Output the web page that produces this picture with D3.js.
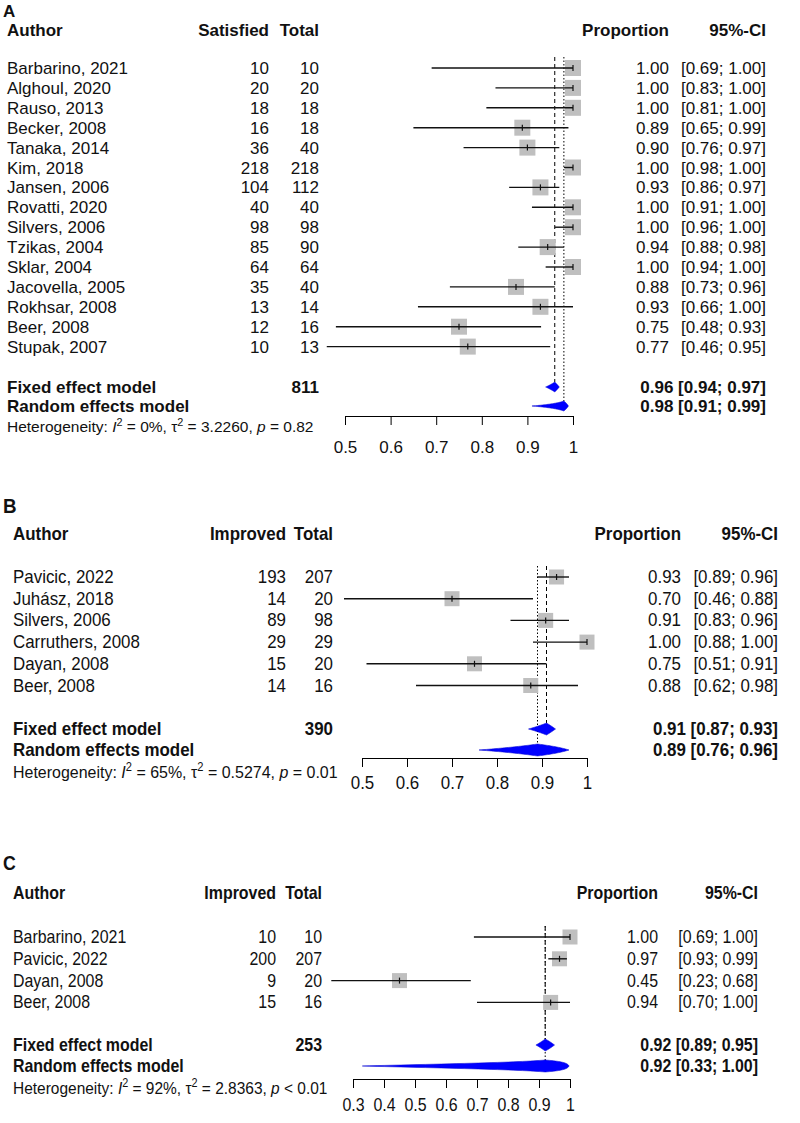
<!DOCTYPE html>
<html>
<head>
<meta charset="utf-8">
<script src="https://cdn.jsdelivr.net/npm/d3@7.9.0/dist/d3.min.js"></script>
<style>
  body { margin: 0; background: #fff; }
  svg { display: block; font-family: "Liberation Sans", Arial, sans-serif; }
</style>
</head>
<body>
<svg id="fig" width="800" height="1123"></svg>
<script>
// ---- panel A: satisfaction ----
const authorsA = ['Barbarino, 2021', 'Alghoul, 2020', 'Rauso, 2013', 'Becker, 2008', 'Tanaka, 2014',
  'Kim, 2018', 'Jansen, 2006', 'Rovatti, 2020', 'Silvers, 2006', 'Tzikas, 2004', 'Sklar, 2004',
  'Jacovella, 2005', 'Rokhsar, 2008', 'Beer, 2008', 'Stupak, 2007'];
const eventsA = [10, 20, 18, 16, 36, 218, 104, 40, 98, 85, 64, 35, 13, 12, 10];
const totalsA = [10, 20, 18, 18, 40, 218, 112, 40, 98, 90, 64, 40, 14, 16, 13];
const lowerA = [0.69, 0.83, 0.81, 0.65, 0.76, 0.98, 0.86, 0.91, 0.96, 0.88, 0.94, 0.73, 0.66, 0.48, 0.46];
const upperA = [1.00, 1.00, 1.00, 0.99, 0.97, 1.00, 0.97, 1.00, 1.00, 0.98, 1.00, 0.96, 1.00, 0.93, 0.95];
const fixedA = [0.96, 0.94, 0.97];   // estimate, lower, upper
const randomA = [0.98, 0.91, 0.99];
const sumA = 811;
const hetA = ['0%', '3.2260', '= 0.82'];
const ticksA = [0.5, 0.6, 0.7, 0.8, 0.9, 1];

// ---- panel B: improvement ----
const authorsB = ['Pavicic, 2022', 'Juhász, 2018', 'Silvers, 2006', 'Carruthers, 2008', 'Dayan, 2008', 'Beer, 2008'];
const eventsB = [193, 14, 89, 29, 15, 14];
const totalsB = [207, 20, 98, 29, 20, 16];
const lowerB = [0.89, 0.46, 0.83, 0.88, 0.51, 0.62];
const upperB = [0.96, 0.88, 0.96, 1.00, 0.91, 0.98];
const fixedB = [0.91, 0.87, 0.93];
const randomB = [0.89, 0.76, 0.96];
const sumB = 390;
const hetB = ['65%', '0.5274', '= 0.01'];
const ticksB = [0.5, 0.6, 0.7, 0.8, 0.9, 1];

// ---- panel C: improvement ----
const authorsC = ['Barbarino, 2021', 'Pavicic, 2022', 'Dayan, 2008', 'Beer, 2008'];
const eventsC = [10, 200, 9, 15];
const totalsC = [10, 207, 20, 16];
const lowerC = [0.69, 0.93, 0.23, 0.70];
const upperC = [1.00, 0.99, 0.68, 1.00];
const fixedC = [0.92, 0.89, 0.95];
const randomC = [0.92, 0.33, 1.00];
const sumC = 253;
const hetC = ['92%', '2.8363', '< 0.01'];
const ticksC = [0.3, 0.4, 0.5, 0.6, 0.7, 0.8, 0.9, 1];

const svg = d3.select('#fig');
const f2 = d3.format('.2f');
const logit = p => Math.log(p / (1 - p));
const expit = t => 1 / (1 + Math.exp(-t));

function txt(g, x, y, s, o) {
  return g.append('text')
    .attr('transform', `translate(${x},${y}) scale(${o.sx},1)`)
    .attr('text-anchor', o.anchor || 'start')
    .attr('font-weight', o.bold ? 'bold' : 'normal')
    .attr('font-size', o.size)
    .attr('fill', '#111')
    .text(s);
}

// diamond drawn on the logit scale, back-transformed (like meta's forest)
function diamond(g, x, est, lo, hi, yc, h) {
  const c = v => Math.min(Math.max(v, 0.003), 0.997);
  const L = logit(c(lo)), M = logit(c(est)), U = logit(c(hi));
  const top = [], bot = [];
  const n = 30;
  for (let i = 0; i <= n; i++) {
    const t = L + (M - L) * i / n;
    const hh = h / 2 * (t - L) / (M - L);
    top.push([x(expit(t)), yc - hh]); bot.push([x(expit(t)), yc + hh]);
  }
  for (let i = 1; i <= n; i++) {
    const t = M + (U - M) * i / n;
    const hh = h / 2 * (U - t) / (U - M);
    top.push([x(expit(t)), yc - hh]); bot.push([x(expit(t)), yc + hh]);
  }
  const pts = top.concat(bot.reverse());
  g.append('path').attr('d', d3.line()(pts) + 'Z').attr('fill', '#0000ff').attr('stroke', '#0000cc').attr('stroke-width', 0.5);
}

function drawPanel(d, L) {
  const g = svg.append('g');
  const o = { sx: L.sx, size: L.fs };
  const x = d3.scaleLinear().domain(L.domain).range(L.range);
  const rowY = i => L.rowY0 + i * L.rowStep;

  txt(g, 3, L.labelY, L.label, { ...o, bold: true, size: L.labelFs });

  // header
  txt(g, L.cols.author, L.headerY, 'Author', { ...o, bold: true });
  txt(g, L.cols.ev, L.headerY, d.evLabel, { ...o, bold: true, anchor: 'end' });
  txt(g, L.cols.tot, L.headerY, 'Total', { ...o, bold: true, anchor: 'end' });
  txt(g, L.cols.prop, L.headerY, 'Proportion', { ...o, bold: true, anchor: 'end' });
  txt(g, L.cols.ci, L.headerY, '95%-CI', { ...o, bold: true, anchor: 'end' });

  const yFixed = L.fixedY - 6, yRandom = L.randomY - 6;
  const top = rowY(0) - 6 - 11;

  // reference lines
  g.append('line').attr('x1', x(d.fixed[0])).attr('x2', x(d.fixed[0]))
    .attr('y1', top).attr('y2', yFixed - L.dh / 2)
    .attr('stroke', '#000').attr('stroke-dasharray', '4,3');
  g.append('line').attr('x1', x(d.random[0])).attr('x2', x(d.random[0]))
    .attr('y1', top).attr('y2', yRandom - L.dh / 2)
    .attr('stroke', '#000').attr('stroke-dasharray', '1.5,2');

  d.authors.forEach((a, i) => {
    const y = rowY(i), yc = y - 6;
    const p = d.events[i] / d.totals[i];
    txt(g, L.cols.author, y, a, o);
    txt(g, L.cols.ev, y, d.events[i], { ...o, anchor: 'end' });
    txt(g, L.cols.tot, y, d.totals[i], { ...o, anchor: 'end' });
    txt(g, L.cols.prop, y, f2(p), { ...o, anchor: 'end' });
    txt(g, L.cols.ci, y, `[${f2(d.lower[i])}; ${f2(d.upper[i])}]`, { ...o, anchor: 'end' });

    g.append('rect').attr('x', x(p) - L.sq / 2).attr('y', yc - L.sq / 2)
      .attr('width', L.sq).attr('height', L.sq).attr('fill', '#bfbfbf');
    g.append('line').attr('x1', x(d.lower[i])).attr('x2', x(d.upper[i]))
      .attr('y1', yc).attr('y2', yc).attr('stroke', '#111').attr('stroke-width', 1.4);
    g.append('line').attr('x1', x(p)).attr('x2', x(p))
      .attr('y1', yc - 3).attr('y2', yc + 3).attr('stroke', '#111').attr('stroke-width', 1.2);
  });

  // pooled estimates
  txt(g, L.cols.author, L.fixedY, 'Fixed effect model', { ...o, bold: true });
  txt(g, L.cols.tot, L.fixedY, d.sum, { ...o, bold: true, anchor: 'end' });
  txt(g, L.cols.ci, L.fixedY, `${f2(d.fixed[0])} [${f2(d.fixed[1])}; ${f2(d.fixed[2])}]`, { ...o, bold: true, anchor: 'end' });
  txt(g, L.cols.author, L.randomY, 'Random effects model', { ...o, bold: true });
  txt(g, L.cols.ci, L.randomY, `${f2(d.random[0])} [${f2(d.random[1])}; ${f2(d.random[2])}]`, { ...o, bold: true, anchor: 'end' });
  diamond(g, x, d.fixed[0], d.fixed[1], d.fixed[2], yFixed, L.dh);
  diamond(g, x, d.random[0], d.random[1], d.random[2], yRandom, L.dh);

  // heterogeneity line
  const hs = L.hetFs;
  const t = g.append('text').attr('transform', `translate(${L.cols.author},${L.hetY}) scale(${L.sx},1)`)
    .attr('font-size', hs).attr('fill', '#111');
  t.append('tspan').text('Heterogeneity: ');
  t.append('tspan').attr('font-style', 'italic').text('I');
  t.append('tspan').attr('font-size', hs * 0.7).attr('dy', -hs * 0.42).text('2');
  t.append('tspan').attr('dy', hs * 0.42).text(` = ${d.het[0]}, τ`);
  t.append('tspan').attr('font-size', hs * 0.7).attr('dy', -hs * 0.42).text('2');
  t.append('tspan').attr('dy', hs * 0.42).text(` = ${d.het[1]}, `);
  t.append('tspan').attr('font-style', 'italic').text('p');
  t.append('tspan').text(` ${d.het[2]}`);

  // axis
  const axis = d3.axisBottom(x).tickValues(d.ticks).tickSize(9).tickSizeOuter(0)
    .tickPadding(L.tickPad).tickFormat(v => v === 1 ? '1' : d3.format('.1f')(v));
  const ag = g.append('g').attr('transform', `translate(0,${L.axisY})`).call(axis);
  ag.select('.domain').attr('stroke', '#000');
  ag.selectAll('.tick line').attr('stroke', '#000');
  ag.selectAll('.tick text').attr('font-size', L.fs).attr('font-family', '"Liberation Sans", Arial, sans-serif')
    .attr('fill', '#111').attr('transform', `scale(${L.sx},1)`);
}

drawPanel(
  { authors: authorsA, events: eventsA, totals: totalsA, lower: lowerA, upper: upperA,
    fixed: fixedA, random: randomA, sum: sumA, het: hetA, ticks: ticksA, evLabel: 'Satisfied' },
  { label: 'A', labelY: 16.5, labelFs: 17, headerY: 36, rowY0: 74, rowStep: 19.9, fixedY: 393, randomY: 412, hetY: 432,
    axisY: 416, tickPad: 16, domain: [0.5, 1], range: [345, 573], fs: 17, hetFs: 15.5, sx: 1,
    cols: { author: 7, ev: 269, tot: 319, prop: 669, ci: 766 }, sq: 16, dh: 10 });

drawPanel(
  { authors: authorsB, events: eventsB, totals: totalsB, lower: lowerB, upper: upperB,
    fixed: fixedB, random: randomB, sum: sumB, het: hetB, ticks: ticksB, evLabel: 'Improved' },
  { label: 'B', labelY: 513, labelFs: 20, headerY: 540, rowY0: 583, rowStep: 21.7, fixedY: 735, randomY: 756, hetY: 778,
    axisY: 758, tickPad: 9, domain: [0.5, 1], range: [362, 587], fs: 18, hetFs: 17, sx: 0.94,
    cols: { author: 13, ev: 286, tot: 333, prop: 681, ci: 778 }, sq: 15, dh: 12 });

drawPanel(
  { authors: authorsC, events: eventsC, totals: totalsC, lower: lowerC, upper: upperC,
    fixed: fixedC, random: randomC, sum: sumC, het: hetC, ticks: ticksC, evLabel: 'Improved' },
  { label: 'C', labelY: 870, labelFs: 19.5, headerY: 899, rowY0: 943, rowStep: 21.8, fixedY: 1051, randomY: 1072, hetY: 1094,
    axisY: 1079, tickPad: 11, domain: [0.3, 1], range: [353, 570], fs: 17.5, hetFs: 17, sx: 0.91,
    cols: { author: 13, ev: 276, tot: 322, prop: 658, ci: 758 }, sq: 15, dh: 12 });
</script>
</body>
</html>
